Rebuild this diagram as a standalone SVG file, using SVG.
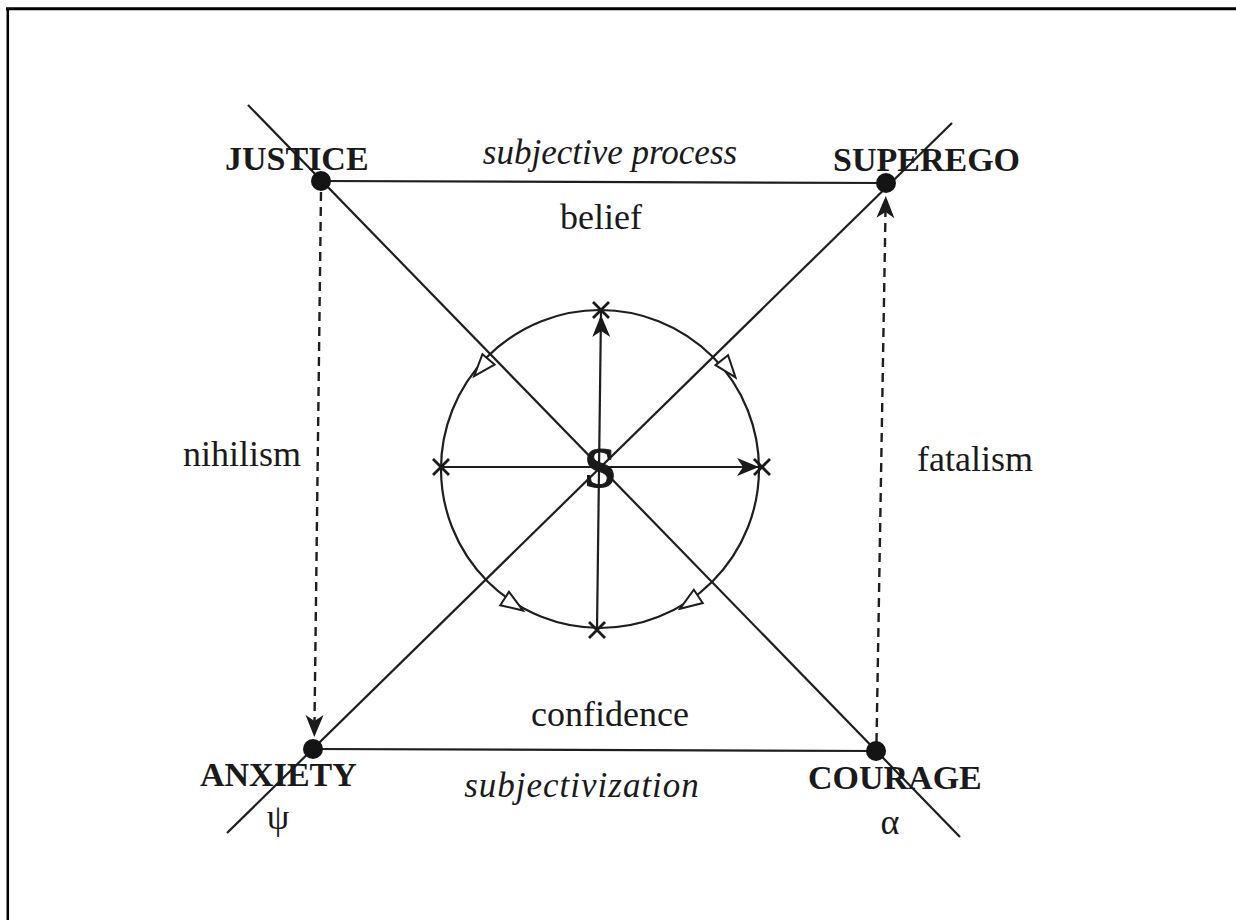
<svg xmlns="http://www.w3.org/2000/svg" xmlns:xlink="http://www.w3.org/1999/xlink" width="1236" height="920" viewBox="0 0 1236 920">
<style>
.ln{stroke:#1e1e1e;stroke-width:2.2;fill:none}
.dash{stroke:#1e1e1e;stroke-width:2.4;fill:none;stroke-dasharray:9 6}
.cap{font-family:"Liberation Serif","Times New Roman",serif;font-weight:bold;font-size:34px;fill:#1a1a1a}
.lab{font-family:"Liberation Serif","Times New Roman",serif;font-size:36px;fill:#1a1a1a}
.it{font-family:"Liberation Serif","Times New Roman",serif;font-style:italic;font-size:35px;fill:#1a1a1a}
.dot{fill:#141414}
.x{stroke:#1a1a1a;stroke-width:2.8;fill:none}
.tri{fill:#fff;stroke:#1e1e1e;stroke-width:2}
.barb{fill:#1a1a1a}
</style>
<defs>
<path id="barbA" d="M0,0 L-22,-9 L-16,0 L-22,9 Z"/>
<path id="cross" d="M-8,-8 L8,8 M-8,8 L8,-8"/>
<polygon id="openTri" points="12,0 -10,-8 -10,8"/>
</defs>
<rect x="0" y="0" width="1236" height="920" fill="#fff"/>
<g id="frame">
<line x1="6" y1="8.7" x2="1236" y2="8.7" stroke="#000" stroke-width="3"/>
<line x1="7.8" y1="8" x2="7.8" y2="920" stroke="#000" stroke-width="2.5"/>
</g>
<g id="connectors">
<line class="ln" x1="321" y1="181" x2="886" y2="183"/>
<line class="ln" x1="313" y1="749" x2="876" y2="751"/>
<line class="ln" x1="248" y1="105" x2="960" y2="837"/>
<line class="ln" x1="952" y1="123" x2="227" y2="833"/>
<line class="dash" x1="321" y1="192" x2="314.5" y2="722"/>
<use href="#barbA" class="barb" transform="translate(314.3,737) rotate(90.7)"/>
<line class="dash" x1="876.5" y1="742" x2="885.5" y2="212"/>
<use href="#barbA" class="barb" transform="translate(885.8,196) rotate(-89)"/>
<circle class="ln" cx="600" cy="469" r="159"/>
<line class="ln" x1="441" y1="467" x2="762" y2="467"/>
<line class="ln" x1="601" y1="312" x2="597" y2="630"/>
<use href="#barbA" class="barb" transform="translate(759,467)"/>
<use href="#barbA" class="barb" transform="translate(601,315) rotate(-90.7)"/>
<use href="#cross" class="x" transform="translate(441,467)"/>
<use href="#cross" class="x" transform="translate(762,467)"/>
<use href="#cross" class="x" transform="translate(601,310)"/>
<use href="#cross" class="x" transform="translate(597,630)"/>
<use href="#openTri" class="tri" transform="translate(482,367) rotate(130.6)"/>
<use href="#openTri" class="tri" transform="translate(728,368) rotate(51.5)"/>
<use href="#openTri" class="tri" transform="translate(513,604) rotate(33)"/>
<use href="#openTri" class="tri" transform="translate(690,602) rotate(146)"/>
</g>
<g id="justice"><circle class="dot" cx="321" cy="181" r="10"/><text class="cap" x="225" y="170">JUSTICE</text></g>
<g id="superego"><circle class="dot" cx="886" cy="183" r="10"/><text class="cap" x="833" y="171">SUPEREGO</text></g>
<g id="anxiety"><circle class="dot" cx="313" cy="749" r="10"/><text class="cap" x="200" y="786">ANXIETY</text><text class="lab" x="278" y="829" text-anchor="middle" font-size="32">ψ</text></g>
<g id="courage"><circle class="dot" cx="876" cy="751" r="10"/><text class="cap" x="808" y="789">COURAGE</text><text class="lab" x="890" y="834" text-anchor="middle" font-size="32">α</text></g>
<g id="subject"><text x="600" y="487" text-anchor="middle" font-family="Liberation Serif, serif" font-weight="bold" font-size="56" fill="#1a1a1a" stroke="#1a1a1a" stroke-width="1">S</text></g>
<g id="labels">
<text class="it" x="610" y="164" text-anchor="middle">subjective process</text>
<text class="lab" x="601" y="229" text-anchor="middle" font-size="38">belief</text>
<text class="lab" x="242" y="466" text-anchor="middle">nihilism</text>
<text class="lab" x="975" y="471" text-anchor="middle">fatalism</text>
<text class="lab" x="610" y="726" text-anchor="middle" font-size="38">confidence</text>
<text class="it" x="582" y="797" text-anchor="middle" font-size="38" letter-spacing="1">subjectivization</text>
</g>
</svg>
